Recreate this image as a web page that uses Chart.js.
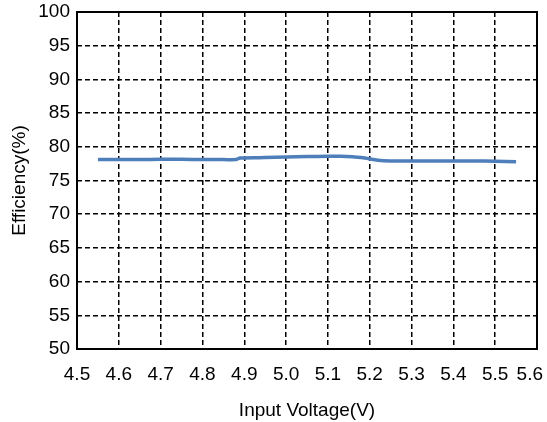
<!DOCTYPE html>
<html>
<head>
<meta charset="utf-8">
<script src="https://cdn.jsdelivr.net/npm/chart.js@4/dist/chart.umd.min.js"></script>
<style>
  html, body { margin: 0; padding: 0; background: #fff; }
  #wrap { width: 547px; height: 422px; }
</style>
</head>
<body>
<div id="wrap"><canvas id="effChart" width="547" height="422"></canvas></div>
<script>
// data
const voltages   = [4.55, 4.60, 4.65, 4.70, 4.75, 4.80, 4.85, 4.88, 4.89, 4.95, 5.00, 5.05, 5.10, 5.13, 5.18, 5.22, 5.25, 5.30, 5.35, 5.40, 5.45, 5.50, 5.55];
const efficiency = [78.1, 78.1, 78.1, 78.15, 78.15, 78.1, 78.1, 78.1, 78.35, 78.4, 78.5, 78.55, 78.6, 78.6, 78.4, 78.0, 77.9, 77.9, 77.9, 77.9, 77.9, 77.85, 77.8];
const xRange = [4.5, 5.6];
const yRange = [50, 100];

const FONT = 'Liberation Sans, Arial, sans-serif';
const TICK_SIZE = 19;

// solid frame round the plot area, plus the last x label pulled in (like Excel does)
const frame = {
  id: 'frame',
  afterDraw(chart) {
    const { ctx, chartArea: a } = chart;
    ctx.save();
    ctx.strokeStyle = '#000';
    ctx.lineWidth = 2;
    ctx.strokeRect(a.left, a.top, a.right - a.left, a.bottom - a.top);

    const xs = chart.scales.x;
    ctx.fillStyle = '#000';
    ctx.font = `${TICK_SIZE}px ${FONT}`;
    ctx.textAlign = 'right';
    ctx.textBaseline = 'middle';
    ctx.fillText(xRange[1].toFixed(1), Math.min(xs.getPixelForValue(xRange[1]) + 14, chart.width - 4), a.bottom + 26);
    ctx.restore();
  }
};

const gridOpts = {
  color: (c) => (c.index === 0 || c.index === c.chart.scales[c.scale.id].ticks.length - 1) ? 'rgba(0,0,0,0)' : '#000',
  lineWidth: 1.5,
  drawTicks: false,
};

new Chart(document.getElementById('effChart'), {
  type: 'scatter',
  data: {
    datasets: [{
      data: voltages.map((v, i) => ({ x: v, y: efficiency[i] })),
      showLine: true,
      borderColor: '#4f7fba',
      borderWidth: 3.5,
      pointRadius: 0,
      tension: 0.3,
    }],
  },
  options: {
    responsive: false,
    animation: false,
    layout: { padding: { left: 0, right: 10, top: 12, bottom: 0 } },
    plugins: { legend: { display: false }, tooltip: { enabled: false } },
    scales: {
      x: {
        type: 'linear',
        min: xRange[0], max: xRange[1],
        afterFit: (s) => { s.height = 73; s.paddingLeft = 0; s.paddingRight = 0; },
        border: { display: false, dash: [5, 3] },
        grid: gridOpts,
        ticks: {
          stepSize: 0.1, padding: 14, color: '#000',
          font: { family: FONT, size: TICK_SIZE },
          callback: (v) => Math.abs(v - xRange[1]) < 1e-6 ? '' : Number(v).toFixed(1),
        },
        title: {
          display: true, text: 'Input Voltage(V)', color: '#000',
          font: { family: FONT, size: 19 }, padding: { top: 0, bottom: 0 },
        },
      },
      y: {
        min: yRange[0], max: yRange[1],
        afterFit: (s) => { s.width = 77; s.paddingTop = 0; s.paddingBottom = 0; },
        border: { display: false, dash: [5, 3] },
        grid: gridOpts,
        ticks: {
          stepSize: 5, padding: 7, color: '#000',
          font: { family: FONT, size: TICK_SIZE },
        },
        title: {
          display: true, text: 'Efficiency(%)', color: '#000',
          font: { family: FONT, size: 19 }, padding: { top: 8, bottom: 0 },
        },
      },
    },
  },
  plugins: [frame],
});
</script>
</body>
</html>
